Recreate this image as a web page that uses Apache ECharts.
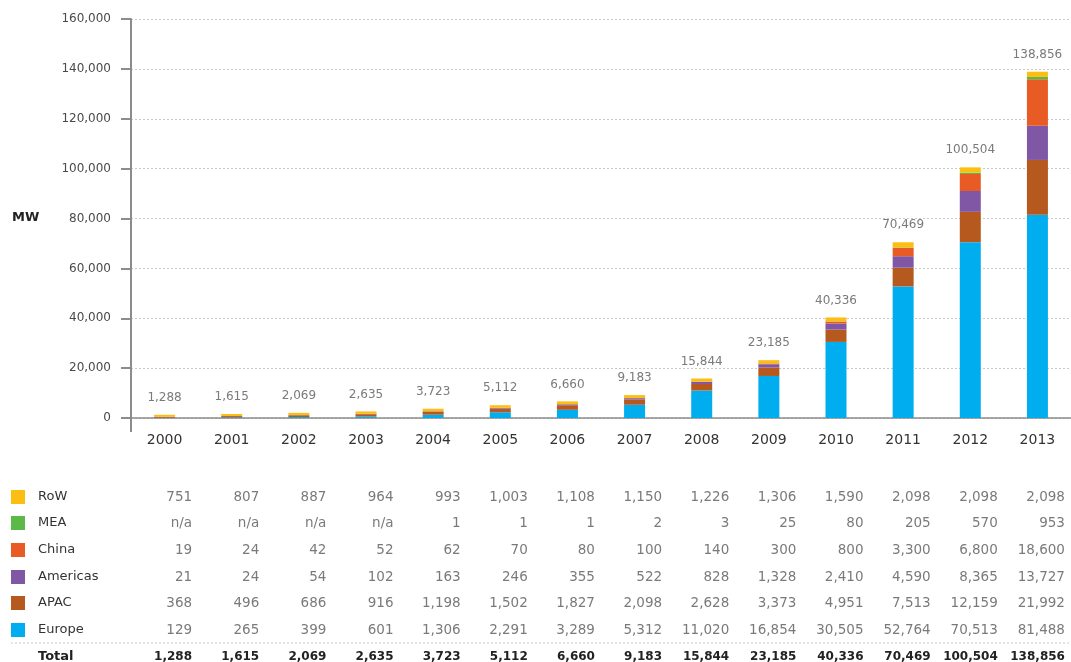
<!DOCTYPE html>
<html>
<head>
<meta charset="utf-8">
<script src="https://cdn.jsdelivr.net/npm/echarts@6/dist/echarts.min.js"></script>
<style>
  html, body { margin: 0; padding: 0; background: #fff; }
  #chart { width: 1071px; height: 662px; }
</style>
</head>
<body>
<div id="chart"></div>
<script>
// Installed capacity by region, MW
const years = ['2000','2001','2002','2003','2004','2005','2006','2007','2008','2009','2010','2011','2012','2013'];
const europe   = [129, 265, 399, 601, 1306, 2291, 3289, 5312, 11020, 16854, 30505, 52764, 70513, 81488];
const apac     = [368, 496, 686, 916, 1198, 1502, 1827, 2098, 2628, 3373, 4951, 7513, 12159, 21992];
const americas = [21, 24, 54, 102, 163, 246, 355, 522, 828, 1328, 2410, 4590, 8365, 13727];
const china    = [19, 24, 42, 52, 62, 70, 80, 100, 140, 300, 800, 3300, 6800, 18600];
const mea      = [null, null, null, null, 1, 1, 1, 2, 3, 25, 80, 205, 570, 953];
const row      = [751, 807, 887, 964, 993, 1003, 1108, 1150, 1226, 1306, 1590, 2098, 2098, 2098];
const totals   = [1288, 1615, 2069, 2635, 3723, 5112, 6660, 9183, 15844, 23185, 40336, 70469, 100504, 138856];

const colors = {
  Europe: '#00AEEF',
  APAC: '#B5591F',
  Americas: '#7F57A5',
  China: '#E95B25',
  MEA: '#5BB947',
  RoW: '#FDBE12'
};

const FONT = '"DejaVu Sans", sans-serif';
const fmt = v => (v === null || v === undefined) ? 'n/a' : v.toLocaleString('en-US');

const stackOrder = [
  ['Europe', europe],
  ['APAC', apac],
  ['Americas', americas],
  ['China', china],
  ['MEA', mea],
  ['RoW', row]
];

const series = stackOrder.map(([name, data], i) => {
  const s = {
    name: name,
    type: 'bar',
    stack: 'total',
    barWidth: 21,
    data: data,
    itemStyle: { color: colors[name] },
    emphasis: { disabled: true }
  };
  if (i === stackOrder.length - 1) {
    s.label = {
      show: true,
      position: 'top',
      distance: 11,
      color: '#7a7a7a',
      fontFamily: FONT,
      fontSize: 12,
      formatter: p => fmt(totals[p.dataIndex])
    };
  }
  return s;
});

const chart = echarts.init(document.getElementById('chart'), null, { renderer: 'canvas' });

chart.setOption({
  animation: false,
  backgroundColor: '#ffffff',
  grid: { left: 131, top: 19, width: 944, height: 399, containLabel: false },
  xAxis: {
    type: 'category',
    data: years,
    boundaryGap: true,
    axisLine: { lineStyle: { color: '#8c8c8c', width: 1.5 } },
    axisTick: { show: false },
    axisLabel: { color: '#333', fontFamily: FONT, fontSize: 14, margin: 15 }
  },
  yAxis: {
    type: 'value',
    min: 0,
    max: 160000,
    interval: 20000,
    axisLine: { show: true, lineStyle: { color: '#8c8c8c', width: 2 } },
    axisTick: { show: true, length: 10, lineStyle: { color: '#8c8c8c', width: 2 } },
    axisLabel: {
      color: '#4a4a4a',
      fontFamily: FONT,
      fontSize: 12,
      margin: 20,
      formatter: v => v.toLocaleString('en-US')
    },
    splitLine: { show: true, lineStyle: { color: '#c8c8c8', type: [2, 2], width: 1 } }
  },
  series: series
});

const graphics = [];
const colX = i => chart.convertToPixel({ xAxisIndex: 0 }, i);
const band = colX(1) - colX(0);

// Value axis continues a little below the category axis
const axisX = colX(0) - band / 2;
const zeroY = chart.convertToPixel({ yAxisIndex: 0 }, 0);
graphics.push({
  type: 'line',
  shape: { x1: axisX, y1: zeroY, x2: axisX, y2: zeroY + 14 },
  style: { stroke: '#8c8c8c', lineWidth: 2 }
});

graphics.push({
  type: 'text',
  left: 12, top: 211,
  style: { text: 'MW', fill: '#222', font: 'bold 13px ' + FONT }
});

// Data table beneath the plot, aligned to the category columns
const rowY = { RoW: 497, MEA: 523, China: 550, Americas: 577, APAC: 603, Europe: 630 };
const tableRows = [['RoW', row], ['MEA', mea], ['China', china], ['Americas', americas], ['APAC', apac], ['Europe', europe]];

tableRows.forEach(([name, data]) => {
  const y = rowY[name];
  graphics.push({
    type: 'rect',
    shape: { x: 11, y: y - 7, width: 14, height: 14 },
    style: { fill: colors[name] }
  });
  graphics.push({
    type: 'text',
    x: 38, y: y,
    style: { text: name, fill: '#333', font: '13px ' + FONT, verticalAlign: 'middle', align: 'left' }
  });
  data.forEach((v, i) => {
    graphics.push({
      type: 'text',
      x: colX(i) + 27.5, y: y,
      style: { text: fmt(v), fill: '#7a7a7a', font: '13.5px ' + FONT, verticalAlign: 'middle', align: 'right' }
    });
  });
});

graphics.push({
  type: 'line',
  shape: { x1: 11, y1: 643, x2: 1071, y2: 643 },
  style: { stroke: '#c8c8c8', lineWidth: 1, lineDash: [2, 2] }
});

graphics.push({
  type: 'text',
  x: 38, y: 657,
  style: { text: 'Total', fill: '#222', font: 'bold 13px ' + FONT, verticalAlign: 'middle', align: 'left' }
});

totals.forEach((v, i) => {
  graphics.push({
    type: 'text',
    x: colX(i) + 27.5, y: 657,
    style: { text: fmt(v), fill: '#222', font: 'bold 12px ' + FONT, verticalAlign: 'middle', align: 'right' }
  });
});

chart.setOption({ graphic: graphics });
</script>
</body>
</html>
